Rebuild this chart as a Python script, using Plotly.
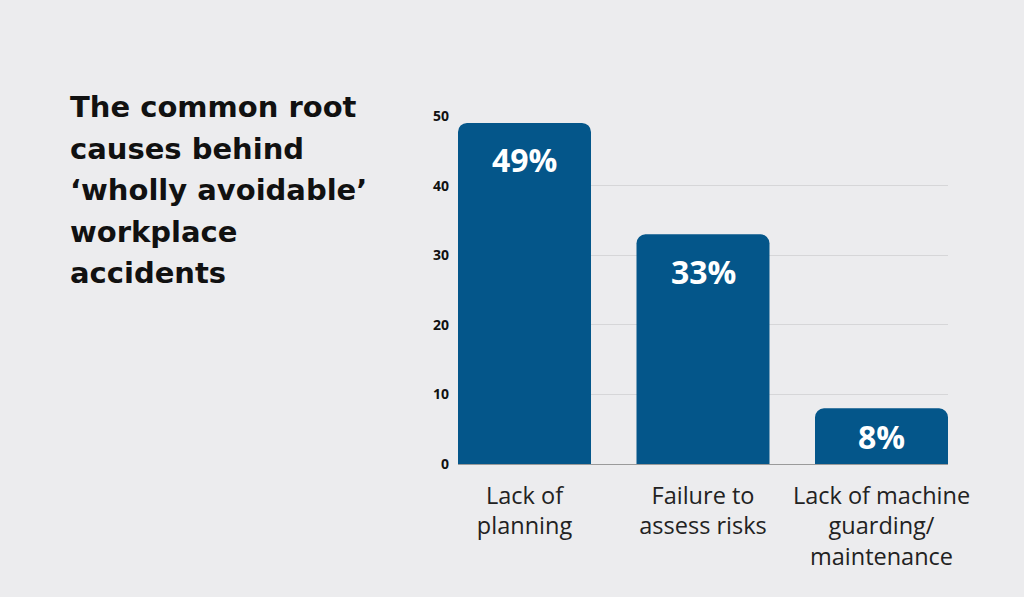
import plotly.graph_objects as go

categories = ["Lack of<br>planning", "Failure to<br>assess risks", "Lack of machine<br>guarding/<br>maintenance"]
values = [49, 33, 8]
value_labels = ["49%", "33%", "8%"]
y_ticks = [0, 10, 20, 30, 40, 50]
title_lines = ["The common root", "causes behind", "\u2018wholly avoidable\u2019", "workplace", "accidents"]

BG = "#ececee"
BAR = "#04568a"

x_idx = list(range(len(categories)))
fig = go.Figure()
fig.add_trace(go.Bar(
    x=x_idx, y=values, width=0.745,
    marker=dict(color=BAR, line=dict(width=0)),
    hoverinfo="skip",
))

for i, (v, lab) in enumerate(zip(values, value_labels)):
    fig.add_annotation(x=i, y=max(v - 5.3, v / 2), text=lab, showarrow=False, yanchor="middle",
                       font=dict(family="Open Sans", size=32, color="white", weight="bold"))

# title lines
L, R = 458, 948
for k, line in enumerate(title_lines):
    fig.add_annotation(xref="paper", yref="paper", x=(68 - L) / (R - L), xanchor="left",
                       y=1 + (116 - (107 + 41.5 * k)) / (464 - 116), yanchor="middle",
                       text=line, showarrow=False,
                       font=dict(family="DejaVu Sans", size=29, color="#111111", weight="bold"))

fig.update_layout(
    width=1024, height=597,
    paper_bgcolor=BG, plot_bgcolor=BG,
    margin=dict(l=L, r=1024 - R, t=116, b=597 - 464),
    barcornerradius=9,
    showlegend=False,
    xaxis=dict(tickmode="array", tickvals=x_idx, ticktext=categories, range=[-0.3725, 2.3725],
               showgrid=False, zeroline=False, showline=False, ticks="",
               ticklabelstandoff=15,
               tickfont=dict(family="Open Sans", size=23.5, color="#222222")),
    yaxis=dict(range=[0, 50], tickvals=y_ticks, showgrid=True, gridcolor="#d6d6d8", gridwidth=1,
               zeroline=True, zerolinecolor="#9a9a9a", zerolinewidth=1, showline=False,
               ticklabelstandoff=8,
               tickfont=dict(family="Open Sans", size=14, color="#111111", weight="bold")),
)

fig.write_html("out.html", config={"displayModeBar": False},
               post_script="document.body.style.margin='0';document.body.style.background='" + BG + "';")
